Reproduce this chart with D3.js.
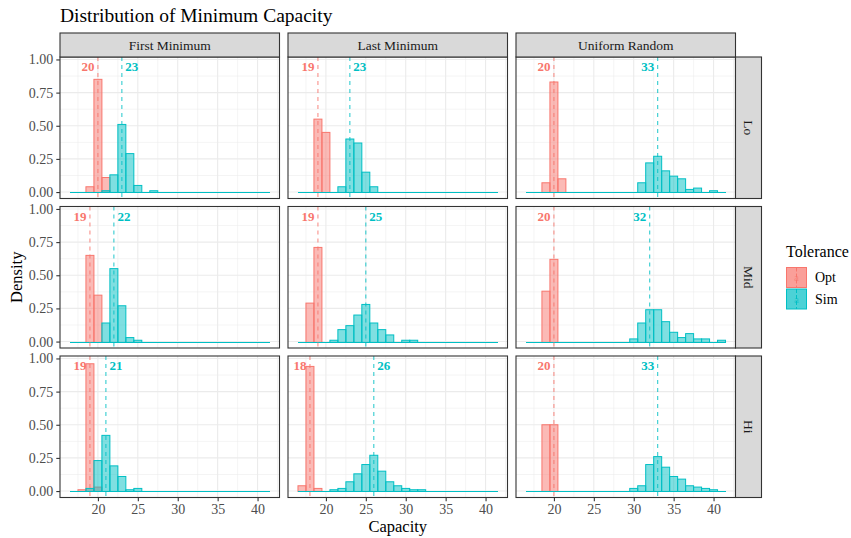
<!DOCTYPE html>
<html>
<head>
<meta charset="utf-8">
<script src="https://cdn.jsdelivr.net/npm/d3@7"></script>
<style>
  body { margin: 0; background: #fff; }
  svg text { font-family: "Liberation Serif", "DejaVu Serif", serif; }
</style>
</head>
<body>
<div class="canva"></div>
<script>
// facets
const methods = ['First Minimum', 'Last Minimum', 'Uniform Random'];
const levels = ['Lo', 'Mid', 'Hi'];
const groups = ['Opt', 'Sim'];
const colors = {Opt: '#F8766D', Sim: '#00BFC4'};

// [capacity, density] per facet column, one array per row and group
const optLo = [
  [[19, 0.04], [20, 0.85], [21, 0.11]],
  [[19, 0.55], [20, 0.45]],
  [[19, 0.07], [20, 0.83], [21, 0.10]]
];
const simLo = [
  [[21, 0.01], [22, 0.13], [23, 0.51], [24, 0.29], [25, 0.05], [27, 0.01]],
  [[22, 0.04], [23, 0.40], [24, 0.37], [25, 0.15], [26, 0.04]],
  [[31, 0.07], [32, 0.22], [33, 0.27], [34, 0.16], [35, 0.12], [36, 0.10], [37, 0.02], [38, 0.03], [40, 0.01]]
];
const optMid = [
  [[19, 0.65], [20, 0.35]],
  [[18, 0.29], [19, 0.71]],
  [[19, 0.38], [20, 0.62]]
];
const simMid = [
  [[21, 0.14], [22, 0.55], [23, 0.27], [24, 0.03], [25, 0.01]],
  [[21, 0.01], [22, 0.09], [23, 0.12], [24, 0.20], [25, 0.28], [26, 0.14], [27, 0.09], [28, 0.05], [30, 0.01], [31, 0.01]],
  [[30, 0.02], [31, 0.14], [32, 0.24], [33, 0.24], [34, 0.15], [35, 0.07], [36, 0.03], [37, 0.06], [38, 0.02], [39, 0.02], [41, 0.01]]
];
const optHi = [
  [[18, 0.01], [19, 0.96], [20, 0.03]],
  [[17, 0.04], [18, 0.94], [19, 0.02]],
  [[19, 0.50], [20, 0.50]]
];
const simHi = [
  [[19, 0.02], [20, 0.23], [21, 0.42], [22, 0.19], [23, 0.11], [24, 0.01], [25, 0.02]],
  [[21, 0.01], [22, 0.02], [23, 0.07], [24, 0.13], [25, 0.20], [26, 0.27], [27, 0.15], [28, 0.07], [29, 0.04], [30, 0.02], [31, 0.01], [32, 0.01]],
  [[30, 0.02], [31, 0.04], [32, 0.20], [33, 0.26], [34, 0.18], [35, 0.11], [36, 0.09], [37, 0.04], [38, 0.03], [39, 0.02], [40, 0.01]]
];

// dashed reference lines (rows Lo, Mid, Hi)
const optMark = [[20, 19, 20], [19, 19, 20], [19, 18, 20]];
const simMark = [[23, 23, 33], [22, 25, 32], [21, 26, 33]];

const xTicks = [20, 25, 30, 35, 40];
const yTicks = [0, 0.25, 0.5, 0.75, 1];

const byRow = {Opt: [optLo, optMid, optHi], Sim: [simLo, simMid, simHi]};
const marks = {Opt: optMark, Sim: simMark};

// layout
const W = 851, H = 538;
const panelW = 219.5, panelH = 141.5;
const colX = [60, 288, 516];
const rowY = [57, 206.5, 356];
const stripH = 24, stripW = 26;
const serif = '"Liberation Serif", "DejaVu Serif", serif';

const svg = d3.select('.canva').append('svg')
    .attr('width', W)
    .attr('height', H);

// histogram range = data range, padded like ggplot (5%)
const allCaps = [].concat(...[optLo, optMid, optHi, simLo, simMid, simHi].flat()).map(d => d[0]);
const [binMin, binMax] = d3.extent(allCaps);
const pad = (binMax - binMin + 1) * 0.05;
const xDomain = [binMin - 0.5 - pad, binMax + 0.5 + pad];
const yDomain = [-0.0485, 1.0185];

const y = d3.scaleLinear().domain(yDomain);

levels.forEach((lev, r) => {
  const yr = y.copy().range([rowY[r] + panelH, rowY[r]]);
  const base = Math.round(yr(0)) + 0.5;
  methods.forEach((m, c) => {
    const x = d3.scaleLinear().domain(xDomain).range([colX[c], colX[c] + panelW]);
    const g = svg.append('g');

    g.append('rect')
        .attr('x', colX[c]).attr('y', rowY[r])
        .attr('width', panelW).attr('height', panelH)
        .attr('fill', '#fff');

    // grid
    const minorX = xTicks.map(t => t - 2.5).concat([xTicks[xTicks.length - 1] + 2.5]);
    const minorY = yTicks.slice(1).map(t => t - 0.125);
    g.selectAll('.mx').data(minorX).enter().append('line')
        .attr('x1', d => x(d)).attr('x2', d => x(d))
        .attr('y1', rowY[r]).attr('y2', rowY[r] + panelH)
        .attr('stroke', '#EBEBEB').attr('stroke-width', 0.55);
    g.selectAll('.my').data(minorY).enter().append('line')
        .attr('y1', d => yr(d)).attr('y2', d => yr(d))
        .attr('x1', colX[c]).attr('x2', colX[c] + panelW)
        .attr('stroke', '#EBEBEB').attr('stroke-width', 0.55);
    g.selectAll('.gx').data(xTicks).enter().append('line')
        .attr('x1', d => x(d)).attr('x2', d => x(d))
        .attr('y1', rowY[r]).attr('y2', rowY[r] + panelH)
        .attr('stroke', '#EBEBEB').attr('stroke-width', 1.1);
    g.selectAll('.gy').data(yTicks).enter().append('line')
        .attr('y1', d => yr(d)).attr('y2', d => yr(d))
        .attr('x1', colX[c]).attr('x2', colX[c] + panelW)
        .attr('stroke', '#EBEBEB').attr('stroke-width', 1.1);

    // histograms (Opt first, Sim on top)
    groups.forEach(grp => {
      g.selectAll('rect.bar-' + grp).data(byRow[grp][r][c]).enter().append('rect')
          .attr('class', 'bar-' + grp)
          .attr('x', d => x(d[0] - 0.5))
          .attr('y', d => yr(d[1]))
          .attr('width', d => x(d[0] + 0.5) - x(d[0] - 0.5))
          .attr('height', d => base - yr(d[1]))
          .attr('fill', colors[grp]).attr('fill-opacity', 0.5)
          .attr('stroke', colors[grp]).attr('stroke-width', 1);
    });
    // empty Sim bins show as a flat outline over the full bin range
    g.append('line')
        .attr('x1', x(binMin - 0.5)).attr('x2', x(binMax + 0.5))
        .attr('y1', base).attr('y2', base)
        .attr('stroke', colors.Sim).attr('stroke-width', 1.3)
        .attr('shape-rendering', 'crispEdges');

    // dashed lines + labels
    groups.forEach(grp => {
      const v = marks[grp][r][c];
      g.append('line')
          .attr('x1', x(v)).attr('x2', x(v))
          .attr('y1', rowY[r]).attr('y2', rowY[r] + panelH)
          .attr('stroke', colors[grp]).attr('stroke-opacity', 0.8)
          .attr('stroke-width', 1.1).attr('stroke-dasharray', '4,4');
      const left = grp === 'Opt' || m === 'Uniform Random';
      g.append('text')
          .attr('x', x(v) + (left ? -3.5 : 3.5))
          .attr('y', yr(0.945))
          .attr('dy', '0.35em')
          .attr('text-anchor', left ? 'end' : 'start')
          .attr('font-family', serif)
          .attr('font-size', 13).attr('font-weight', 'bold')
          .attr('fill', colors[grp])
          .text(v);
    });

    g.append('rect')
        .attr('x', colX[c]).attr('y', rowY[r])
        .attr('width', panelW).attr('height', panelH)
        .attr('fill', 'none').attr('stroke', '#333').attr('stroke-width', 1.1);

    // axes
    if (c === 0) {
      const ax = svg.append('g')
          .attr('transform', `translate(${colX[0]},0)`)
          .call(d3.axisLeft(yr).tickValues(yTicks).tickFormat(d3.format('.2f')).tickSize(3.7).tickPadding(3));
      ax.attr('font-family', serif).attr('font-size', 14);
      ax.select('.domain').remove();
      ax.selectAll('line').attr('stroke', '#333').attr('stroke-width', 1.1);
      ax.selectAll('text').attr('fill', '#4D4D4D');
    }
    if (r === levels.length - 1) {
      const ax = svg.append('g')
          .attr('transform', `translate(0,${rowY[r] + panelH})`)
          .call(d3.axisBottom(x).tickValues(xTicks).tickSize(3.7).tickPadding(3));
      ax.attr('font-family', serif).attr('font-size', 14);
      ax.select('.domain').remove();
      ax.selectAll('line').attr('stroke', '#333').attr('stroke-width', 1.1);
      ax.selectAll('text').attr('fill', '#4D4D4D');
    }
  });
});

// strips
methods.forEach((m, c) => {
  svg.append('rect')
      .attr('x', colX[c]).attr('y', rowY[0] - stripH)
      .attr('width', panelW).attr('height', stripH)
      .attr('fill', '#D9D9D9').attr('stroke', '#333').attr('stroke-width', 1.1);
  svg.append('text')
      .attr('x', colX[c] + panelW / 2).attr('y', rowY[0] - stripH / 2)
      .attr('dy', '0.35em').attr('text-anchor', 'middle')
      .attr('font-size', 13.5).attr('fill', '#1A1A1A')
      .text(m);
});
const sx = colX[2] + panelW;
levels.forEach((lev, r) => {
  svg.append('rect')
      .attr('x', sx).attr('y', rowY[r])
      .attr('width', stripW).attr('height', panelH)
      .attr('fill', '#D9D9D9').attr('stroke', '#333').attr('stroke-width', 1.1);
  svg.append('text')
      .attr('transform', `translate(${sx + stripW / 2},${rowY[r] + panelH / 2}) rotate(90)`)
      .attr('dy', '0.35em').attr('text-anchor', 'middle')
      .attr('font-size', 13.5).attr('fill', '#1A1A1A')
      .text(lev);
});

// titles
svg.append('text')
    .attr('x', colX[0]).attr('y', 22)
    .attr('font-size', 19.5).attr('fill', '#000')
    .text('Distribution of Minimum Capacity');
svg.append('text')
    .attr('x', (colX[0] + colX[2] + panelW) / 2).attr('y', 532)
    .attr('text-anchor', 'middle').attr('font-size', 16.5)
    .text('Capacity');
svg.append('text')
    .attr('transform', `translate(22,${(rowY[0] + rowY[2] + panelH) / 2}) rotate(-90)`)
    .attr('text-anchor', 'middle').attr('font-size', 16.5)
    .text('Density');

// legend
const lg = svg.append('g').attr('transform', 'translate(786,0)');
lg.append('text').attr('x', 0).attr('y', 257).attr('font-size', 16).text('Tolerance');
groups.forEach((grp, i) => {
  const ky = 267.5 + i * 21.5;
  lg.append('rect')
      .attr('x', 0.5).attr('y', ky).attr('width', 20).attr('height', 20)
      .attr('fill', colors[grp]).attr('fill-opacity', 0.7)
      .attr('stroke', colors[grp]).attr('stroke-width', 1);
  lg.append('line')
      .attr('x1', 10.5).attr('x2', 10.5).attr('y1', ky).attr('y2', ky + 20)
      .attr('stroke', colors[grp]).attr('stroke-width', 1).attr('stroke-dasharray', '4,2');
  lg.append('text')
      .attr('x', 10.5).attr('y', ky + 10).attr('dy', '0.35em')
      .attr('text-anchor', 'middle').attr('font-size', 11)
      .attr('fill', colors[grp]).attr('opacity', 0.6).text('a');
  lg.append('text')
      .attr('x', 29).attr('y', ky + 10).attr('dy', '0.35em')
      .attr('font-size', 14).text(grp);
});
</script>
</body>
</html>
